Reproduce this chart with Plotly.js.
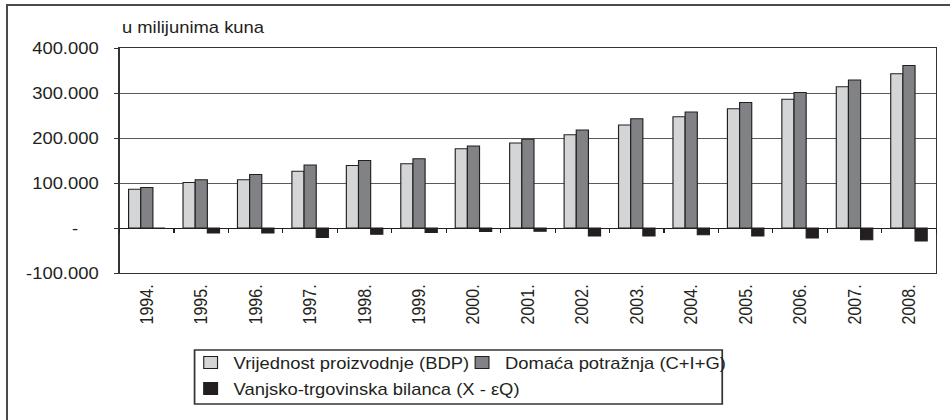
<!DOCTYPE html>
<html>
<head>
<meta charset="utf-8">
<script src="https://cdn.plot.ly/plotly-3.0.1.min.js"></script>
<style>
html,body{margin:0;padding:0;background:#fff;overflow:hidden;width:950px;height:420px}
#wrap{position:absolute;left:0;top:0;width:826px;height:420px;transform:scaleX(1.1501);transform-origin:0 0}
#chart{width:826px;height:420px}
#frame{position:absolute;left:6px;top:4px;width:2000px;height:2000px;border-left:2px solid #4a4a4a;border-top:2px solid #4a4a4a;pointer-events:none}
</style>
</head>
<body>
<div id="wrap"><div id="chart"></div></div>
<div id="frame"></div>
<script>
// Data (u milijunima kuna)
const years = ['1994.','1995.','1996.','1997.','1998.','1999.','2000.','2001.','2002.','2003.','2004.','2005.','2006.','2007.','2008.'];
const bdp = [86000, 101000, 107000, 126000, 139000, 143000, 176000, 189000, 207000, 229000, 247000, 265000, 286000, 314000, 343000];
const domaca = [90000, 107000, 119000, 140000, 150000, 154000, 182000, 197000, 218000, 243000, 258000, 279000, 301000, 329000, 361000];
const bilanca = [0, -11000, -11000, -21000, -14000, -10000, -8000, -7000, -18000, -18000, -15000, -18000, -22000, -26000, -29000];
const seriesNames = ['Vrijednost proizvodnje (BDP)', 'Domaća potražnja (C+I+G)', 'Vanjsko-trgovinska bilanca (X - εQ)'];
const yTickVals = [-100000, 0, 100000, 200000, 300000, 400000];
const yTickText = ['-100.000', '-\u00a0\u00a0\u00a0\u00a0', '100.000', '200.000', '300.000', '400.000'];
const unitLabel = 'u milijunima kuna';

const FONT = 'Liberation Sans, Arial, Helvetica, sans-serif';
const TXT = '#231f20';
const yMin = -100000, yMax = 400000;
const outline = {color: '#231f20', width: 1};

const traces = [
  {type: 'bar', name: seriesNames[0], x: years, y: bdp, marker: {color: '#d4d5d7', line: outline}, legend: 'legend'},
  {type: 'bar', name: seriesNames[1], x: years, y: domaca, marker: {color: '#808285', line: outline}, legend: 'legend'},
  {type: 'bar', name: seriesNames[2], x: years, y: bilanca, marker: {color: '#231f20', line: outline}, legend: 'legend2'},
  // helper so that the zero-level category axis (ticks between categories) is drawn
  {type: 'scatter', mode: 'none', x: years, y: bdp, xaxis: 'x2', showlegend: false, hoverinfo: 'skip'}
];

const layout = {
  width: 826, height: 420,
  margin: {l: 103.5, r: 12, t: 48, b: 147, pad: 0},
  paper_bgcolor: 'rgba(0,0,0,0)',
  plot_bgcolor: '#ffffff',
  font: {family: FONT, size: 16, color: TXT},
  barmode: 'group',
  bargap: 0.33,
  bargroupgap: 0,
  showlegend: true,
  xaxis: {
    type: 'category', categoryarray: years, range: [-0.5, years.length - 0.5],
    tickangle: -90, ticks: '', showgrid: false, zeroline: false,
    showline: true, mirror: true, linecolor: '#333', linewidth: 1,
    ticklabelstandoff: 4,
    tickfont: {family: FONT, size: 16, color: TXT}
  },
  xaxis2: {
    type: 'category', categoryarray: years, range: [-0.5, years.length - 0.5],
    overlaying: 'x', anchor: 'free', side: 'bottom',
    position: (0 - yMin) / (yMax - yMin),
    showticklabels: false, ticks: 'outside', tickson: 'boundaries', ticklen: 4,
    tickcolor: '#231f20', tickwidth: 1,
    showline: true, linecolor: '#231f20', linewidth: 1, showgrid: false, zeroline: false
  },
  yaxis: {
    range: [yMin, yMax], autorange: false,
    tickvals: yTickVals, ticktext: yTickText,
    ticks: 'outside', ticklen: 4, tickcolor: '#333',
    ticklabelstandoff: 10,
    showgrid: true, gridcolor: '#5a5a5a', gridwidth: 1,
    zeroline: false,
    showline: true, mirror: true, linecolor: '#333', linewidth: 1,
    tickfont: {family: FONT, size: 16, color: TXT}
  },
  legend: {
    orientation: 'h', x: 0.0833, xanchor: 'left', y: -0.323, yanchor: 'top',
    entrywidth: 191, entrywidthmode: 'pixels',
    bgcolor: 'rgba(0,0,0,0)', borderwidth: 0,
    font: {family: FONT, size: 16, color: TXT}, traceorder: 'normal'
  },
  legend2: {
    orientation: 'h', x: 0.0833, xanchor: 'left', y: -0.438, yanchor: 'top',
    bgcolor: 'rgba(0,0,0,0)', borderwidth: 0,
    font: {family: FONT, size: 16, color: TXT}
  },
  shapes: [
    {type: 'rect', xref: 'paper', yref: 'paper', x0: 0.0918, x1: 0.738, y0: -0.582, y1: -0.342,
     line: {color: '#333', width: 1.5}, fillcolor: 'rgba(0,0,0,0)', layer: 'above'}
  ],
  annotations: [
    {text: unitLabel, xref: 'paper', yref: 'paper', x: 0, y: 1, xanchor: 'left', yanchor: 'bottom',
     yshift: 10, showarrow: false, font: {family: FONT, size: 16, color: TXT}}
  ]
};

Plotly.newPlot('chart', traces, layout, {staticPlot: true, displayModeBar: false});
</script>
</body>
</html>
